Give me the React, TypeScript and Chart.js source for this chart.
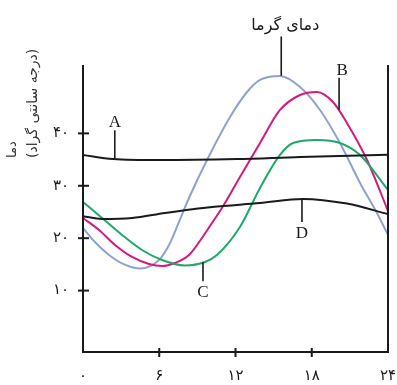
import React, { useEffect, useRef } from "react";
import { Chart, registerables } from "chart.js";

Chart.register(...registerables);

// hours of day, temperatures (°C)
const blueX = [0, 0.94, 2.05, 3.07, 4.5, 5.98, 6.77, 7.55, 8.34, 9.76, 11.57, 12.91, 13.93, 15.5, 17.08, 18.65, 20.22, 21.8, 23.13, 24];
const blueY = [21.95, 19.27, 16.79, 15.2, 14.2, 15.84, 18.7, 23.09, 27.67, 34.92, 43.13, 47.9, 50.19, 50.95, 48.85, 44.47, 38.17, 30.53, 24.81, 20.61];

const pinkX = [0, 1.26, 2.52, 3.86, 5.19, 6.22, 7.24, 8.34, 9.36, 10.15, 11.02, 12.35, 13.93, 15.5, 17.08, 18.41, 19.67, 20.77, 22.35, 24];
const pinkY = [23.85, 21.56, 18.7, 16.41, 15.08, 14.69, 15.27, 16.79, 20.04, 22.9, 26.1, 31.68, 38.17, 44.47, 47.33, 47.9, 45.99, 41.98, 34.92, 25.2];

const greenX = [0, 1.5, 3.07, 4.64, 6.22, 8.0, 9.6, 10.54, 12.35, 13.93, 15.5, 16.52, 18.41, 20.22, 21.8, 24];
const greenY = [26.9, 23.85, 20.61, 17.75, 15.84, 14.8, 15.46, 16.79, 22.14, 29.58, 35.88, 38.17, 38.74, 38.17, 35.88, 29.2];

const aX = [0, 2.36, 6.06, 12.12, 17.1, 24];
const aY = [35.9, 35.1, 34.9, 35.1, 35.5, 35.9];

const dX = [0, 1.5, 3.86, 6.45, 10.15, 13.93, 17.31, 20.77, 24];
const dY = [24.2, 23.66, 23.85, 24.8, 25.95, 26.7, 27.5, 26.6, 24.6];

const xTicks = [0, 6, 12, 18, 24];
const xTickLabels = ["۰", "۶", "۱۲", "۱۸", "۲۴"];
const yTicks = [10, 20, 30, 40];
const yTickLabels = ["۱۰", "۲۰", "۳۰", "۴۰"];

const titleText = "دمای گرما";
const yTitleLines = ["دما", "(درجه سانتی گراد)"];

// annotation leaders
const leaderLabels = ["A", "B", "C", "D"];
const leaderHours = [2.5, 20.15, 9.44, 17.23];
const leaderFrom = [40.6, 50.6, 11.8, 23.1];
const leaderTo = [35.1, 44.5, 15.4, 27.4];
const titleHour = 15.6;
const titleLeaderFrom = 58.5;
const titleLeaderTo = 51.0;

const pts = (xs: number[], ys: number[]) => xs.map((x, i) => ({ x, y: ys[i] }));

const PERSIAN_FONT = '"DejaVu Sans", sans-serif';

const decor = {
  id: "decor",
  afterDatasetsDraw(chart: any) {
    const { ctx, chartArea, scales } = chart;
    const xs = scales.x;
    const ys = scales.y;
    ctx.save();
    ctx.strokeStyle = "#1a1a1a";
    ctx.fillStyle = "#1a1a1a";
    ctx.lineWidth = 2;
    ctx.lineCap = "butt";
    ctx.beginPath();
    ctx.moveTo(chartArea.left, chartArea.top);
    ctx.lineTo(chartArea.left, chartArea.bottom);
    ctx.lineTo(chartArea.right, chartArea.bottom);
    ctx.lineTo(chartArea.right, chartArea.top);
    ctx.stroke();

    yTicks.forEach((v, i) => {
      const py = ys.getPixelForValue(v);
      ctx.beginPath();
      ctx.moveTo(chartArea.left - 5, py);
      ctx.lineTo(chartArea.left + 6, py);
      ctx.stroke();
      ctx.font = `15px ${PERSIAN_FONT}`;
      ctx.textAlign = "right";
      ctx.textBaseline = "middle";
      ctx.fillText(yTickLabels[i], chartArea.left - 14, py);
    });
    xTicks.forEach((v, i) => {
      const px = xs.getPixelForValue(v);
      if (i > 0 && i < xTicks.length - 1) {
        ctx.beginPath();
        ctx.moveTo(px, chartArea.bottom - 4);
        ctx.lineTo(px, chartArea.bottom + 5);
        ctx.stroke();
      }
      ctx.font = `15px ${PERSIAN_FONT}`;
      ctx.textAlign = "center";
      ctx.textBaseline = "alphabetic";
      ctx.fillText(xTickLabels[i], px, chartArea.bottom + 28);
    });

    ctx.lineWidth = 1.6;
    leaderLabels.forEach((lab, i) => {
      const px = xs.getPixelForValue(leaderHours[i]);
      const p1 = ys.getPixelForValue(leaderFrom[i]);
      const p2 = ys.getPixelForValue(leaderTo[i]);
      ctx.beginPath();
      ctx.moveTo(px, p1);
      ctx.lineTo(px, p2);
      ctx.stroke();
      ctx.font = `17px "Liberation Serif", serif`;
      ctx.textAlign = "center";
      const above = leaderFrom[i] > leaderTo[i];
      if (above) {
        ctx.textBaseline = "alphabetic";
        ctx.fillText(lab, px + (lab === "B" ? 3 : 0), Math.min(p1, p2) - 3);
      } else {
        ctx.textBaseline = "top";
        ctx.fillText(lab, px, Math.max(p1, p2) + 3);
      }
    });
    const tx = xs.getPixelForValue(titleHour);
    ctx.beginPath();
    ctx.moveTo(tx, ys.getPixelForValue(titleLeaderFrom));
    ctx.lineTo(tx, ys.getPixelForValue(titleLeaderTo));
    ctx.stroke();
    ctx.font = `16px ${PERSIAN_FONT}`;
    ctx.textAlign = "center";
    ctx.textBaseline = "alphabetic";
    ctx.fillText(titleText, tx + 4, ys.getPixelForValue(titleLeaderFrom) - 6);

    ctx.save();
    ctx.translate(0, 158);
    ctx.rotate(-Math.PI / 2);
    ctx.textAlign = "left";
    ctx.textBaseline = "middle";
    ctx.font = `13px ${PERSIAN_FONT}`;
    ctx.fillStyle = "#333";
    ctx.fillText(yTitleLines[0], 0, 13);
    ctx.font = `14px ${PERSIAN_FONT}`;
    ctx.fillText(yTitleLines[1], 0, 33);
    ctx.restore();

    ctx.restore();
  },
};

export default function App() {
  const ref = useRef<HTMLCanvasElement | null>(null);
  useEffect(() => {
    if (!ref.current) return;
    const mk = (data: any, color: string) => ({
      data,
      borderColor: color,
      borderWidth: 2,
      pointRadius: 0,
      fill: false,
      cubicInterpolationMode: "monotone" as const,
    });
    const chart = new Chart(ref.current, {
      type: "line",
      data: {
        datasets: [
          mk(pts(dX, dY), "#1a1a1a"),
          mk(pts(aX, aY), "#1a1a1a"),
          mk(pts(greenX, greenY), "#1fa86a"),
          mk(pts(pinkX, pinkY), "#d6197c"),
          mk(pts(blueX, blueY), "#8fa2cf"),
        ],
      },
      options: {
        responsive: false,
        animation: false,
        layout: { padding: { left: 83, right: 9, top: 65, bottom: 33 } },
        plugins: { legend: { display: false }, tooltip: { enabled: false } },
        scales: {
          x: { type: "linear", min: 0, max: 24, display: false },
          y: { type: "linear", min: -1.72, max: 53.05, display: false },
        },
      },
      plugins: [decor],
    });
    return () => chart.destroy();
  }, []);
  return (
    <div style={{ position: "absolute", left: 0, top: 0, width: 397, height: 385, background: "#fff" }}>
      <canvas ref={ref} width={397} height={385} />
    </div>
  );
}
